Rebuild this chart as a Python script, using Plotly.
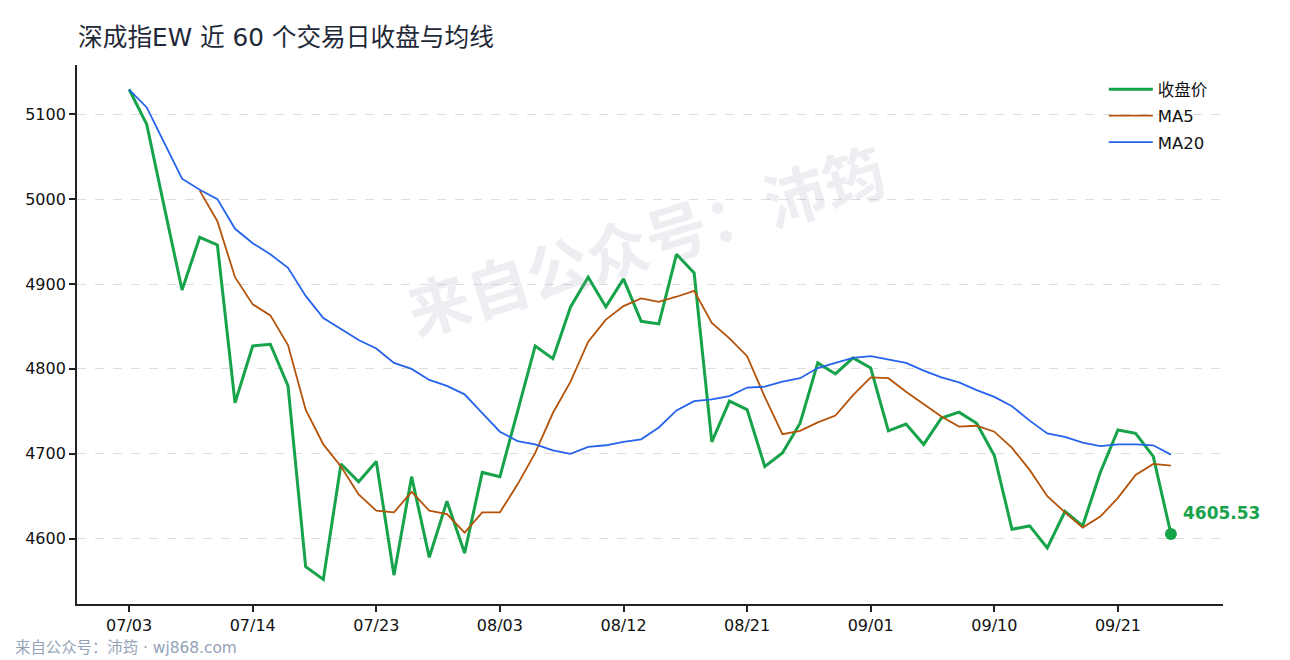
import plotly.graph_objects as go

# 近 60 个交易日（按索引），每 7 个交易日标一次日期
days = list(range(60))
tick_labels = ["07/03", "07/14", "07/23", "08/03", "08/12", "08/21", "09/01", "09/10", "09/21"]

close = [
    5129.4, 5088, 4990, 4893, 4955, 4946, 4760, 4827, 4829, 4780,
    4567, 4552, 4688, 4667, 4691, 4557, 4673, 4578, 4644, 4583,
    4678, 4673, 4750, 4827, 4812, 4873, 4908, 4873, 4906, 4856,
    4853, 4935, 4913, 4714, 4762, 4752, 4685, 4701, 4736, 4807,
    4794, 4813, 4801, 4727, 4735, 4711, 4742, 4749, 4736, 4698,
    4611, 4615, 4589, 4632, 4615, 4678, 4728, 4724, 4697, 4605.53,
]

ma5 = [
    None, None, None, None, 5010, 4974, 4908, 4876, 4863, 4828,
    4752, 4711, 4685, 4652, 4633, 4631, 4655, 4633, 4629, 4607,
    4631, 4631, 4664, 4701, 4748, 4785, 4832, 4858, 4874, 4883,
    4879, 4885, 4892, 4854, 4836, 4815, 4767, 4723, 4727, 4737,
    4745, 4769, 4790, 4789, 4773, 4758, 4744, 4732, 4733, 4726,
    4707, 4681, 4650, 4631, 4613, 4626, 4648, 4675, 4688, 4686,
]

ma20 = [
    5129, 5108, 5066, 5024, 5011, 5000, 4965, 4948, 4935, 4919,
    4886, 4860, 4847, 4834, 4824, 4807, 4800, 4787, 4780, 4770,
    4748, 4726, 4715, 4711, 4704, 4700, 4708, 4710, 4714, 4717,
    4731, 4751, 4762, 4764, 4768, 4778, 4779, 4785, 4789, 4801,
    4807, 4813, 4815, 4811, 4807, 4798, 4790, 4784, 4775, 4767,
    4756, 4739, 4724, 4720, 4713, 4709, 4711, 4711, 4710, 4699,
]

GREEN = "#16a34a"
ORANGE = "#b45309"
BLUE = "#2563eb"
FONT = "DejaVu Sans, Noto Sans CJK SC"

# 页面自带 8px 边距，图幅相应缩小
W, H = 1282, 652
L, R, T, B = 69, 67, 57, 56
pw, ph = W - L - R, H - T - B

fig = go.Figure()
fig.add_trace(go.Scatter(x=days, y=close, name="收盘价", mode="lines", legendgroup="c",
                         line=dict(color=GREEN, width=3)))
fig.add_trace(go.Scatter(x=days, y=ma5, name="MA5", mode="lines", legendgroup="m5",
                         line=dict(color=ORANGE, width=1.8)))
fig.add_trace(go.Scatter(x=days, y=ma20, name="MA20", mode="lines", legendgroup="m20",
                         line=dict(color=BLUE, width=1.8)))
# 最新收盘点
fig.add_trace(go.Scatter(x=[days[-1]], y=[close[-1]], mode="markers", showlegend=False,
                         marker=dict(color=GREEN, size=12)))

fig.add_annotation(x=days[-1], y=close[-1], text=f"<b>{close[-1]:.2f}</b>",
                   showarrow=False, xanchor="left", yanchor="middle",
                   xshift=10, yshift=21, font=dict(color=GREEN, size=17, family=FONT))

# 水印
fig.add_annotation(x=(639 - L) / pw, y=(H - B - 235) / ph, xref="paper", yref="paper",
                   text="<b>来自公众号：沛筠</b>", showarrow=False, textangle=-17,
                   xanchor="center", yanchor="middle",
                   font=dict(size=62, color="rgba(150,160,185,0.18)", family=FONT))
# 页脚
fig.add_annotation(x=(5 - L) / pw, y=(H - B - 640) / ph, xref="paper", yref="paper",
                   text="来自公众号：沛筠 · wj868.com",
                   showarrow=False, xanchor="left", yanchor="middle",
                   font=dict(size=15.4, color="#94a3b8", family=FONT))

fig.update_layout(
    width=W, height=H,
    margin=dict(l=L, r=R, t=T, b=B),
    paper_bgcolor="white", plot_bgcolor="white",
    font=dict(family=FONT, size=16, color="#111"),
    title=dict(text="深成指EW 近 60 个交易日收盘与均线", x=70 / W, xref="container",
               y=1 - 29 / H, yref="container", xanchor="left", yanchor="middle",
               font=dict(size=24.7, color="#1f2937")),
    legend=dict(x=0.896, y=0.987, xanchor="left", yanchor="top", itemwidth=44,
                bgcolor="rgba(0,0,0,0)", font=dict(size=16.5), tracegroupgap=2),
    showlegend=True,
)
fig.update_xaxes(range=[-2.95, 61.95], tickmode="array", tickvals=days[::7], ticktext=tick_labels,
                 showgrid=False, zeroline=False, showline=True, linecolor="#222", linewidth=1.8,
                 ticks="outside", ticklen=6, tickwidth=1.5, tickcolor="#222")
fig.update_yaxes(range=[4523, 5158], tickvals=[4600, 4700, 4800, 4900, 5000, 5100],
                 showgrid=True, gridcolor="#dddddd", griddash="dash", gridwidth=1, zeroline=False,
                 showline=True, linecolor="#222", linewidth=1.8,
                 ticks="outside", ticklen=6, tickwidth=1.5, tickcolor="#222")

fig.write_html("out.html", config={"displayModeBar": False})
